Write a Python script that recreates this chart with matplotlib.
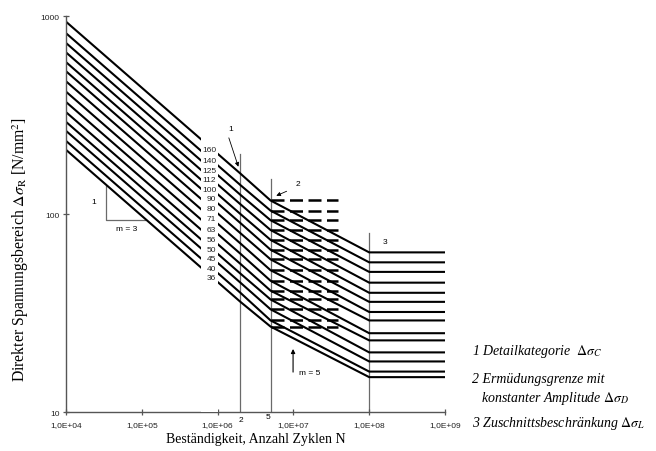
import numpy as np
import matplotlib
matplotlib.use("Agg")
import matplotlib.pyplot as plt
from matplotlib.ticker import FixedLocator, FuncFormatter, NullLocator

plt.rcParams['font.family'] = ['Liberation Sans', 'DejaVu Sans']
plt.rcParams['mathtext.fontset'] = 'stix'

# detail categories (stress range at N = 2e6) and the knee values
categories = [160, 140, 125, 112, 100, 90, 80, 71, 63, 56, 50, 45, 40, 36]
sigma_1e4 = [936, 819, 731, 655, 585, 526, 468, 415, 368, 327, 292, 263, 234, 211]
sigma_D = [117, 104, 93, 83, 74, 66, 59, 52, 46, 41, 37, 33, 29, 27]
sigma_L = [64, 57, 51, 45, 40, 36, 32, 29, 25, 23, 20, 18, 16, 15]
knot_N = [1e4, 2e6, 5e6, 1e8, 1e9]

# thin guide lines at 2e6 / 5e6 / 1e8 and their top ends
guide_N = [2e6, 5e6, 1e8]
guide_top = [200, 150, 80]

xticks = [1e4, 1e5, 1e6, 1e7, 1e8, 1e9]
yticks = [10, 100, 1000]

serif = ['Liberation Serif', 'DejaVu Serif']
grey = '#6a6a6a'

fig = plt.figure(figsize=(6.56, 4.52), dpi=100)
ax = fig.add_axes([66 / 656, 1 - 413 / 452, (445 - 66) / 656, (413 - 17) / 452])
ax.set_xscale('log')
ax.set_yscale('log')
ax.set_xlim(1e4, 1e9)
ax.set_ylim(10, 1000)

for c, s0, sd, sl in zip(categories, sigma_1e4, sigma_D, sigma_L):
    ax.plot(knot_N, [s0, c, sd, sl, sl], color='black', lw=1.5, zorder=2,
            solid_joinstyle='miter')
    # constant amplitude fatigue limit, dashed
    ax.plot([5e6, 3.9e7], [sd, sd], color='black', lw=1.8, zorder=2,
            linestyle=(0, (5.2, 2.2)))
    ax.text(9.6e5, c * 1.33, str(c), ha='right', va='center', fontsize=6,
            color='#222222', zorder=5)

# gap in the curves where the category numbers sit
ax.axvspan(6.0e5, 1.0e6, color='white', zorder=3, lw=0)

for n, top in zip(guide_N, guide_top):
    ax.plot([n, n], [10, top], color=grey, lw=0.9, zorder=1)

# slope triangle m = 3
ax.plot([3.4e4, 3.4e4, 1.1e5], [138, 93, 93], color=grey, lw=0.9, zorder=1)
ax.text(2.3e4, 116, '1', fontsize=6, ha='center', va='center')
ax.text(6.4e4, 84, 'm = 3', fontsize=6, ha='center', va='center')

# m = 5 arrow
ax.annotate('', xy=(9.9e6, 21.5), xytext=(9.9e6, 15.4),
            arrowprops=dict(arrowstyle='-|>', color='black', lw=0.8,
                            mutation_scale=6))
ax.text(1.66e7, 15.9, 'm = 5', fontsize=6, ha='center', va='center')

# markers 1, 2, 3
ax.annotate('', xy=(1.93e6, 168), xytext=(1.37e6, 250),
            arrowprops=dict(arrowstyle='-|>', color='black', lw=0.6,
                            mutation_scale=6))
ax.text(1.5e6, 270, '1', fontsize=6, ha='center', va='center')
ax.annotate('', xy=(5.5e6, 122), xytext=(8.8e6, 132),
            arrowprops=dict(arrowstyle='-|>', color='black', lw=0.6,
                            mutation_scale=6))
ax.text(1.15e7, 142, '2', fontsize=6, ha='center', va='center')
ax.text(1.6e8, 73, '3', fontsize=6, ha='center', va='center')

# values under the axis for the 2e6 and 5e6 guides
trans = ax.get_xaxis_transform()
ax.text(2e6, -0.018, '2', transform=trans, fontsize=6, ha='center', va='center')
ax.text(4.6e6, -0.011, '5', transform=trans, fontsize=6, ha='center', va='center')

for side in ['top', 'right']:
    ax.spines[side].set_visible(False)
for side in ['left', 'bottom']:
    ax.spines[side].set_color('#555555')
    ax.spines[side].set_linewidth(1.0)

ax.xaxis.set_major_locator(FixedLocator(xticks))
ax.yaxis.set_major_locator(FixedLocator(yticks))
ax.xaxis.set_minor_locator(NullLocator())
ax.yaxis.set_minor_locator(NullLocator())
ax.xaxis.set_major_formatter(FuncFormatter(lambda v, p: '1,0E+%02d' % round(np.log10(v))))
ax.yaxis.set_major_formatter(FuncFormatter(lambda v, p: '%d' % v))
ax.tick_params(direction='inout', length=5, width=0.9, color='#555555',
               labelsize=6, labelcolor='#222222', pad=2)
ax.tick_params(axis='x', pad=4)

ax.set_xlabel('Beständigkeit, Anzahl Zyklen N', family=serif, fontsize=10, labelpad=3)
ax.set_ylabel(r'Direkter Spannungsbereich $\Delta\sigma_\mathrm{R}$ [N/mm$^2$]',
              family=serif, fontsize=11.3)
ax.yaxis.set_label_coords(-0.092, 0.414)

# key on the right
key = dict(family=serif, style='italic', fontsize=10, va='center', ha='left')
fig.text(472 / 656, 1 - 352 / 452, r'1 Detailkategorie  $\Delta\sigma_C$', **key)
fig.text(472 / 656, 1 - 380 / 452, '2 Ermüdungsgrenze mit', **key)
fig.text(481 / 656, 1 - 399 / 452, r'konstanter Amplitude $\Delta\sigma_D$', **key)
fig.text(472 / 656, 1 - 424 / 452, r'3 Zuschnittsbeschränkung $\Delta\sigma_L$', **key)

fig.savefig('out.png', dpi=100)
